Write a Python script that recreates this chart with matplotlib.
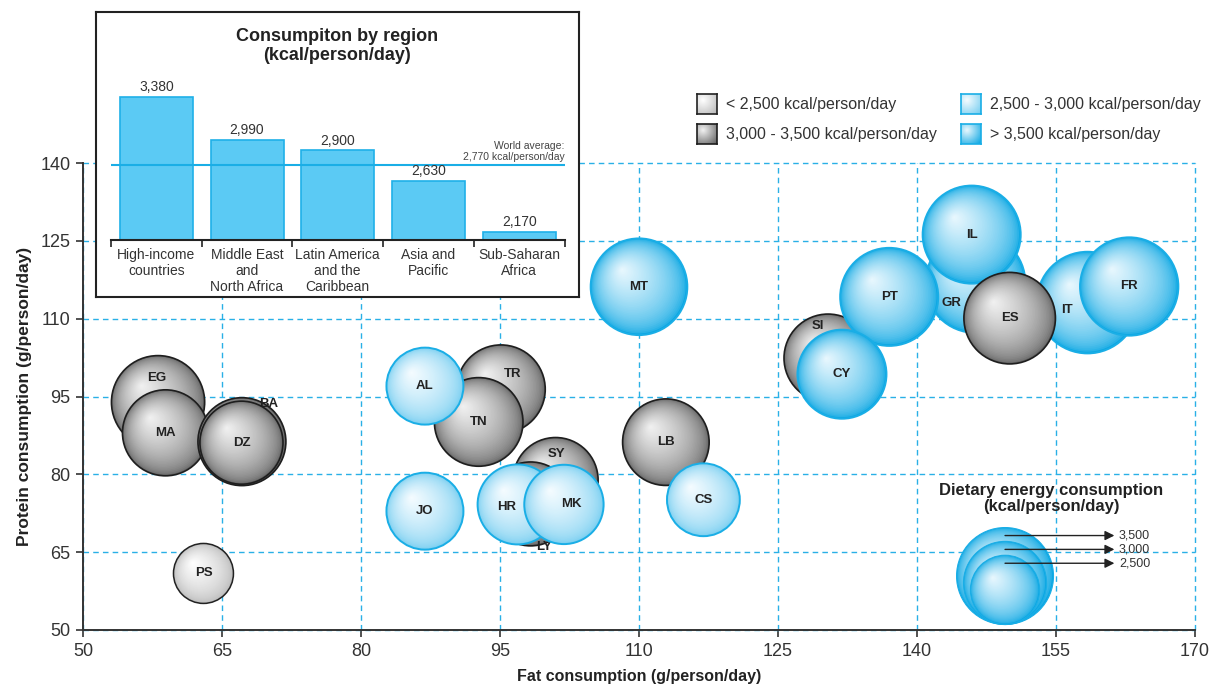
import numpy as np
import matplotlib.pyplot as plt
from matplotlib.patches import Ellipse
from matplotlib.colors import to_rgb
from matplotlib import font_manager

plt.rcParams['font.family'] = ['Liberation Sans', 'DejaVu Sans']
installed = {f.name for f in font_manager.fontManager.ttflist}
narrow = 'Liberation Sans Narrow' if 'Liberation Sans Narrow' in installed else 'Liberation Sans'

# countries: fat (g/person/day), protein (g/person/day), dietary energy (kcal/person/day)
names = ['EG', 'MA', 'BA', 'DZ', 'PS', 'TR', 'TN', 'AL', 'JO', 'SY', 'LY', 'HR', 'MK',
         'LB', 'CS', 'MT', 'SI', 'GR', 'PT', 'CY', 'IL', 'IT', 'FR', 'ES']
fat = [58.1, 58.9, 67.15, 67.1, 63.0, 95.1, 92.7, 86.9, 86.9, 101.0, 98.3, 96.9, 101.9,
       112.9, 116.95, 110.0, 130.4, 146.3, 137.0, 131.9, 145.9, 158.4, 162.9, 150.0]
protein = [93.9, 88.0, 86.3, 86.1, 60.9, 96.4, 90.1, 97.0, 72.9, 78.9, 74.3, 74.2, 74.2,
           86.2, 75.1, 116.15, 102.4, 116.9, 114.2, 99.3, 126.2, 113.1, 116.2, 110.1]
kcal = [3365, 3105, 3175, 3000, 2165, 3200, 3200, 2780, 2780, 3070, 3030, 2890, 2865,
        3125, 2630, 3490, 3180, 3610, 3540, 3215, 3540, 3670, 3550, 3305]
# 0: < 2,500   1: 2,500 - 3,000   2: 3,000 - 3,500   3: > 3,500
group = [2, 2, 2, 2, 0, 2, 2, 1, 1, 2, 2, 1, 1,
         2, 1, 3, 2, 3, 3, 3, 3, 3, 3, 2]

regions = ['High-income\ncountries', 'Middle East\nand\nNorth Africa',
           'Latin America\nand the\nCaribbean', 'Asia and\nPacific', 'Sub-Saharan\nAfrica']
region_kcal = [3380, 2990, 2900, 2630, 2170]
world_avg = 2770
legend_kcal = [3500, 3000, 2500]
group_labels = ['< 2,500 kcal/person/day', '2,500 - 3,000 kcal/person/day',
                '3,000 - 3,500 kcal/person/day', '> 3,500 kcal/person/day']

# label nudges in pixels for bubbles whose label is not at the centre
label_nudge = {'EG': (-1, 24), 'TR': (12, 15), 'SY': (1, 26), 'LY': (13, -43),
               'HR': (-11, -3), 'MK': (7, 0), 'SI': (-10, 32), 'GR': (-24, -20),
               'IT': (-21, -7), 'BA': (27, 38)}

# (highlight, shadow, outline, outline width)
palette = {0: ('#ffffff', '#b8b8b8', '#222222', 1.1),
           1: ('#f6fcff', '#74cdf0', '#1aaee6', 1.4),
           2: ('#f2f2f2', '#626262', '#1e1e1e', 1.2),
           3: ('#eaf8fe', '#0ca7e3', '#1aaee6', 1.4)}

W, H = 1220, 686
fig = plt.figure(figsize=(W / 100, H / 100), dpi=100)
ax = fig.add_axes([83 / W, 1 - 630 / H, 1112 / W, 467 / H])
ax.set_xlim(50, 170)
ax.set_ylim(50, 140)
pxx = 1112 / 120
pxy = 467 / 90


def mix(a, b, t):
    a, b = np.array(to_rgb(a)), np.array(to_rgb(b))
    return tuple(a + (b - a) * t)


def sphere(x, y, r, g, z, lw=None):
    hi, lo, ec, w = palette[g]
    hx, hy = -0.36 * r, 0.36 * r
    n = 40
    for i in range(n):
        t = i / n
        rr = r * (1 - t)
        ax.add_patch(Ellipse((x + t * hx / pxx, y + t * hy / pxy), 2 * rr / pxx, 2 * rr / pxy,
                             fc=mix(lo, hi, t ** 0.55), ec='none', zorder=z, clip_on=False))
    ax.add_patch(Ellipse((x, y), 2 * r / pxx, 2 * r / pxy, fc='none', ec=ec,
                         lw=lw or w, zorder=z, clip_on=False))


scale = 72.2  # kcal per pixel of radius
for i, name in enumerate(names):
    r = kcal[i] / scale
    z = 2 + i * 0.01
    sphere(fat[i], protein[i], r, group[i], z)
    dx, dy = label_nudge.get(name, (0, 0))
    ax.text(fat[i] + dx / pxx, protein[i] + dy / pxy, name, ha='center', va='center',
            fontsize=9.5, fontweight='bold', color='#222222', zorder=z + 0.005)

# size legend
lx, lbottom = 149.5, 51.06
for k in legend_kcal:
    r = k / scale
    sphere(lx, lbottom + r / pxy, r, 3, 3, lw=0.8)
for k in legend_kcal:
    r = k / scale
    ya = lbottom + (2 * r - 8) / pxy
    ax.annotate('', xy=(161.3, ya), xytext=(lx, ya), zorder=4,
                arrowprops=dict(arrowstyle='-|>', color='#222222', lw=1, mutation_scale=14,
                                shrinkA=0, shrinkB=0))
    ax.text(161.8, ya, f'{k:,}', ha='left', va='center', fontsize=9, color='#333333',
            family=narrow, zorder=4)
ax.text(154.5, 75.3, 'Dietary energy consumption\n(kcal/person/day)', ha='center',
        va='center', fontsize=12, fontweight='bold', color='#222222', linespacing=1.1, zorder=4)

ax.set_xticks(np.arange(50, 171, 15))
ax.set_yticks(np.arange(50, 141, 15))
ax.grid(True, color='#29b0e6', lw=1, ls=(0, (4, 3)))
for l in ax.get_xgridlines() + ax.get_ygridlines():
    l.set_clip_on(False)
ax.set_axisbelow(True)
for s in ['top', 'right']:
    ax.spines[s].set_visible(False)
for s in ['left', 'bottom']:
    ax.spines[s].set_color('#333333')
    ax.spines[s].set_linewidth(1.4)
ax.tick_params(labelsize=13, colors='#333333', length=5, width=1.2, pad=4)
ax.set_xlabel('Fat consumption (g/person/day)', fontsize=11.5, fontweight='bold',
              color='#222222', labelpad=7)
ax.set_ylabel('Protein consumption (g/person/day)', fontsize=12.5, fontweight='bold',
              color='#222222', labelpad=6)

# category legend with gradient squares
yy, xx = np.mgrid[0:1:40j, 0:1:40j]
dist = np.clip(np.hypot(xx - 0.3, yy - 0.3) / 0.95, 0, 1)
spots = [(697, 94), (961, 94), (697, 124), (961, 124)]
for g in range(4):
    hi, lo, ec, w = palette[g]
    img = np.array([[mix(lo, hi, 1 - d) for d in row] for row in dist])
    px, py = spots[g]
    sq = fig.add_axes([px / W, 1 - (py + 20) / H, 20 / W, 20 / H])
    sq.imshow(img, extent=(0, 1, 0, 1), aspect='auto')
    sq.set_xticks([])
    sq.set_yticks([])
    for s in sq.spines.values():
        s.set_color(ec)
        s.set_linewidth(1.2)
    fig.text((px + 29) / W, 1 - (py + 10) / H, group_labels[g], ha='left', va='center',
             fontsize=11.5, color='#333333')

# inset box with regional bars
box = fig.add_axes([96 / W, 1 - 297 / H, 483 / W, 285 / H], zorder=2)
box.set_xticks([])
box.set_yticks([])
for s in box.spines.values():
    s.set_color('#222222')
    s.set_linewidth(1.5)

base = 2100
iax = fig.add_axes([111 / W, 1 - 240 / H, 453.5 / W, 200 / H], zorder=3)
iax.patch.set_alpha(0)
iax.set_xlim(0, 5)
iax.set_ylim(base, base + 200 / 0.1121)
pos = np.arange(len(regions)) + 0.5
iax.bar(pos, np.array(region_kcal) - base, bottom=base, width=0.805, color='#5bcaf4',
        edgecolor='#1fb0e8', lw=1.2)
for p, v in zip(pos, region_kcal):
    iax.annotate(f'{v:,}', (p, v), xytext=(0, 2), textcoords='offset points', ha='center',
                 va='bottom', fontsize=10, color='#333333', family=narrow)
iax.axhline(world_avg, color='#1aaee6', lw=1.5)
iax.annotate('World average:\n2,770 kcal/person/day', (5, world_avg), xytext=(0, 2),
             textcoords='offset points', ha='right', va='bottom', fontsize=7.5,
             color='#444444', family=narrow, linespacing=1.15)
iax.set_xticks(pos, regions, fontsize=10, color='#333333', family=narrow, linespacing=1.15)
iax.set_xticks(np.arange(6), minor=True)
iax.tick_params(axis='x', which='major', length=0, pad=6)
iax.tick_params(axis='x', which='minor', length=5, width=1.2, color='#222222', direction='out')
iax.set_yticks([])
for s in ['top', 'right', 'left']:
    iax.spines[s].set_visible(False)
iax.spines['bottom'].set_color('#222222')
iax.spines['bottom'].set_linewidth(1.5)

fig.text(337 / W, 1 - 46 / H, 'Consumpiton by region\n(kcal/person/day)', ha='center',
         va='center', fontsize=13, fontweight='bold', color='#222222', linespacing=1.1,
         zorder=10)

fig.savefig('out.png', dpi=100)
